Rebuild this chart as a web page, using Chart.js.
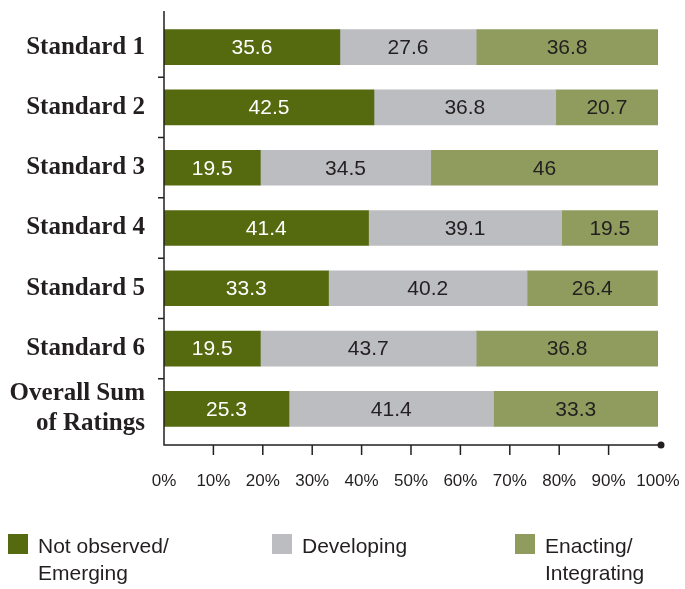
<!DOCTYPE html>
<html>
<head>
<meta charset="utf-8">
<script src="https://cdn.jsdelivr.net/npm/chart.js@4.4.1/dist/chart.umd.min.js"></script>
<style>
    html, body { margin: 0; padding: 0; background: #fff; }
    #wrap { position: relative; width: 685px; height: 589px; }
    #legend { position: absolute; left: 0; top: 0; width: 685px; height: 589px; pointer-events: none;
              font-family: 'Liberation Sans', Arial, sans-serif; font-size: 21px; color: #231f20; line-height: 27px; }
    .item { position: absolute; top: 532px; }
    .box { position: absolute; width: 20px; height: 20px; left: 0; top: 2px; }
    .txt { position: absolute; left: 30px; top: 0; white-space: nowrap; }
</style>
</head>
<body>
<div id="wrap">
    <canvas id="chart" width="685" height="589"></canvas>
    <div id="legend"></div>
</div>
<script>
const categories = ['Standard 1', 'Standard 2', 'Standard 3', 'Standard 4', 'Standard 5', 'Standard 6', ['Overall Sum', 'of Ratings']];
const notObserved = [35.6, 42.5, 19.5, 41.4, 33.3, 19.5, 25.3];
const developing = [27.6, 36.8, 34.5, 39.1, 40.2, 43.7, 41.4];
const enacting = [36.8, 20.7, 46, 19.5, 26.4, 36.8, 33.3];
const xTicks = [0, 10, 20, 30, 40, 50, 60, 70, 80, 90, 100];

const seriesNames = [['Not observed/', 'Emerging'], ['Developing'], ['Enacting/', 'Integrating']];
const colors = ['#55690f', '#bcbdc1', '#8f9c5e'];
const labelColors = ['#ffffff', '#231f20', '#231f20'];
const legendX = [8, 272, 515];

const axisColor = '#231f20';

// axis lines, tick marks and the end dot
const axesPlugin = {
    id: 'axesPlugin',
    afterDraw(chart) {
        const ctx = chart.ctx;
        const area = chart.chartArea;
        const x = chart.scales.x;
        const y = chart.scales.y;
        const baseY = area.bottom + 6;
        ctx.save();
        ctx.strokeStyle = axisColor;
        ctx.lineWidth = 1.5;
        ctx.beginPath();
        ctx.moveTo(area.left, area.top - 6);
        ctx.lineTo(area.left, baseY);
        ctx.lineTo(x.getPixelForValue(100) + 3, baseY);
        ctx.stroke();

        ctx.beginPath();
        xTicks.forEach(v => {
            if (v === 0 || v === 100) return;
            const px = x.getPixelForValue(v);
            ctx.moveTo(px, baseY);
            ctx.lineTo(px, baseY + 10);
        });
        for (let i = 0; i < categories.length - 1; i++) {
            const py = (y.getPixelForValue(i) + y.getPixelForValue(i + 1)) / 2;
            ctx.moveTo(area.left - 6, py);
            ctx.lineTo(area.left, py);
        }
        ctx.stroke();

        ctx.fillStyle = axisColor;
        ctx.beginPath();
        ctx.arc(x.getPixelForValue(100) + 3, baseY, 3.5, 0, Math.PI * 2);
        ctx.fill();
        ctx.restore();
    }
};

// value labels in the middle of every segment
const valueLabels = {
    id: 'valueLabels',
    afterDatasetsDraw(chart) {
        const ctx = chart.ctx;
        ctx.save();
        ctx.font = '21px "Liberation Sans", Arial, sans-serif';
        ctx.textAlign = 'center';
        ctx.textBaseline = 'middle';
        chart.data.datasets.forEach((ds, di) => {
            const meta = chart.getDatasetMeta(di);
            ctx.fillStyle = labelColors[di];
            meta.data.forEach((bar, i) => {
                ctx.fillText(String(ds.data[i]), (bar.x + bar.base) / 2, bar.y + 1);
            });
        });
        ctx.restore();
    }
};

const seriesData = [notObserved, developing, enacting];

new Chart(document.getElementById('chart').getContext('2d'), {
    type: 'bar',
    data: {
        labels: categories,
        datasets: seriesData.map((d, i) => ({
            label: seriesNames[i].join(' '),
            data: d,
            backgroundColor: colors[i],
            borderWidth: 0,
            barThickness: 35
        }))
    },
    options: {
        indexAxis: 'y',
        responsive: false,
        animation: false,
        layout: { padding: { left: 0, right: 27, top: 17, bottom: 0 } },
        plugins: {
            legend: { display: false },
            tooltip: { enabled: false }
        },
        scales: {
            x: {
                stacked: true,
                min: 0,
                max: 100,
                afterFit(scale) {
                    scale.height = 150;
                    scale.paddingLeft = 0;
                    scale.paddingRight = 0;
                },
                afterBuildTicks(scale) { scale.ticks = xTicks.map(v => ({ value: v })); },
                grid: { display: false, drawTicks: false },
                border: { display: false },
                ticks: {
                    padding: 32,
                    color: axisColor,
                    font: { family: '"Liberation Sans", Arial, sans-serif', size: 17 },
                    callback: v => v + '%',
                    maxRotation: 0,
                    autoSkip: false
                }
            },
            y: {
                stacked: true,
                afterFit(scale) {
                    scale.width = 164;
                    scale.paddingTop = 0;
                    scale.paddingBottom = 0;
                },
                grid: { display: false, drawTicks: false },
                border: { display: false },
                ticks: {
                    padding: 19,
                    autoSkip: false,
                    color: axisColor,
                    font: { family: '"Liberation Serif", "Times New Roman", serif', size: 25, weight: 'bold', lineHeight: 1.2 }
                }
            }
        }
    },
    plugins: [axesPlugin, valueLabels]
});

// legend under the chart
const legend = document.getElementById('legend');
seriesNames.forEach((name, i) => {
    const item = document.createElement('div');
    item.className = 'item';
    item.style.left = legendX[i] + 'px';
    item.innerHTML = `<div class="box" style="background:${colors[i]}"></div><div class="txt">${name.join('<br>')}</div>`;
    legend.appendChild(item);
});
</script>
</body>
</html>
